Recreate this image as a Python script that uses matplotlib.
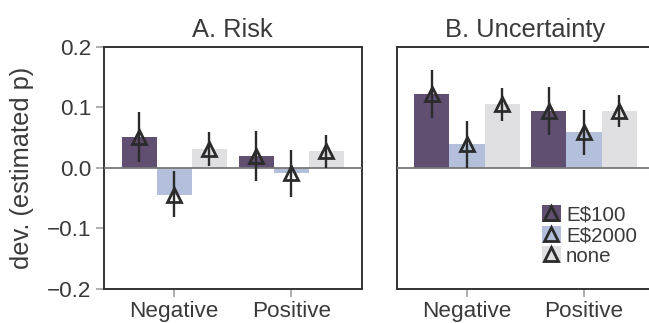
import numpy as np
import matplotlib.pyplot as plt
from matplotlib.patches import Patch
from matplotlib.lines import Line2D
from matplotlib.legend_handler import HandlerTuple

plt.rcParams['font.family'] = ['Liberation Sans', 'DejaVu Sans']
plt.rcParams['text.color'] = '#3a3a3a'
plt.rcParams['axes.labelcolor'] = '#3a3a3a'
plt.rcParams['xtick.color'] = '#999999'
plt.rcParams['ytick.color'] = '#999999'
plt.rcParams['xtick.labelcolor'] = '#3a3a3a'
plt.rcParams['ytick.labelcolor'] = '#3a3a3a'

# categories and hue levels
valence = ["Negative", "Positive"]
feedback = ["E$100", "E$2000", "none"]
colors = ["#614f72", "#b3bfdb", "#e0e0e2"]

# A. Risk: mean deviation per feedback level (rows) and valence (cols)
risk_mean = [[0.051, 0.020], [-0.044, -0.009], [0.031, 0.028]]
risk_lo = [[0.010, -0.022], [-0.081, -0.048], [0.003, 0.000]]
risk_hi = [[0.092, 0.061], [-0.005, 0.029], [0.059, 0.055]]

# B. Uncertainty
unc_mean = [[0.122, 0.094], [0.040, 0.059], [0.106, 0.094]]
unc_lo = [[0.082, 0.054], [0.000, 0.022], [0.078, 0.067]]
unc_hi = [[0.161, 0.133], [0.077, 0.096], [0.132, 0.121]]

fig = plt.figure(figsize=(6.49, 3.23), dpi=100)
ax_a = fig.add_axes([0.1602, 0.1053, 0.397, 0.750])
ax_b = fig.add_axes([0.6112, 0.1053, 0.397, 0.750], sharey=ax_a)

bar_w = 0.3
offsets = [-bar_w, 0.0, bar_w]
x = np.arange(len(valence))
tri_style = dict(linestyle='none', marker='^', ms=10.5,
                 mfc='none', mec='#2b2b2b', mew=2.0)


def draw_panel(ax, mean, lo, hi, title):
    for k in range(len(feedback)):
        m = np.array(mean[k])
        err = np.vstack([m - np.array(lo[k]), np.array(hi[k]) - m])
        xs = x + offsets[k]
        ax.bar(xs, m, width=bar_w, color=colors[k], zorder=1)
        ax.errorbar(xs, m, yerr=err, fmt='none', ecolor='#2b2b2b',
                    elinewidth=1.7, capsize=0, zorder=4)
        ax.plot(xs, m, zorder=5, **tri_style)
    ax.axhline(0, color='#777777', lw=1.3, zorder=3)
    ax.set_xlim(-0.6, 1.6)
    ax.set_xticks(x)
    ax.set_xticklabels(valence)
    ax.set_title(title, fontsize=18.4, pad=7)
    for sp in ax.spines.values():
        sp.set_color('#333333')
        sp.set_linewidth(1.4)
    ax.tick_params(axis='both', length=6, width=1.1, labelsize=16.2, pad=3)


draw_panel(ax_a, risk_mean, risk_lo, risk_hi, "A. Risk")
draw_panel(ax_b, unc_mean, unc_lo, unc_hi, "B. Uncertainty")

ax_a.set_ylim(-0.2, 0.2)
ax_a.set_yticks([-0.2, -0.1, 0.0, 0.1, 0.2])
ax_a.set_ylabel("dev. (estimated p)", fontsize=18.3, labelpad=9)
ax_b.tick_params(axis='y', left=False, labelleft=False)

# legend: colored square with the open triangle drawn on top
handles = []
for c in colors:
    sq = Patch(facecolor=c, edgecolor='none')
    tri = Line2D([], [], **tri_style)
    handles.append((sq, tri))
ax_b.legend(handles, feedback, handler_map={tuple: HandlerTuple(ndivide=1)},
            loc='lower left', bbox_to_anchor=(0.565, 0.095), frameon=False,
            fontsize=14.8, handlelength=0.9, handleheight=0.9,
            labelspacing=0.05, handletextpad=0.25, borderpad=0.0,
            borderaxespad=0.0)

fig.savefig("out.png", dpi=100)
